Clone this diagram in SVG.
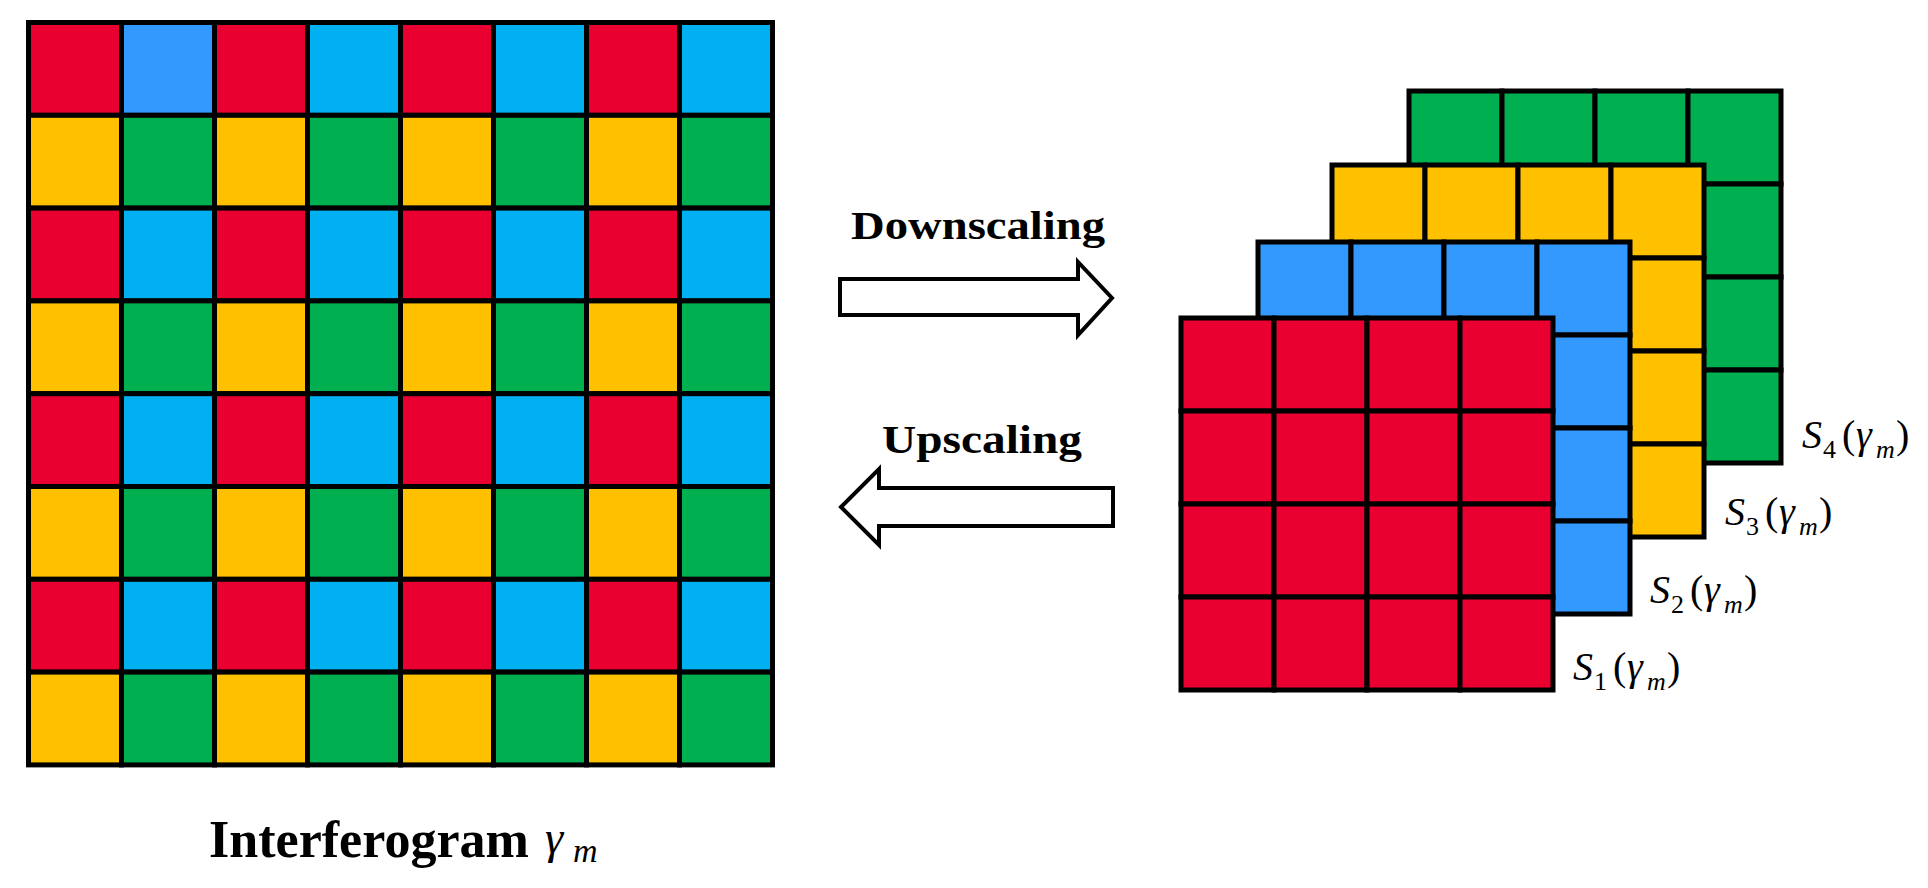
<svg xmlns="http://www.w3.org/2000/svg" width="1928" height="888" viewBox="0 0 1928 888">
<style>
.c{stroke:#000;stroke-width:5;stroke-linejoin:miter}
.r{fill:#E90030}.b{fill:#3399FF}.k{fill:#00B0F0}.y{fill:#FFC000}.g{fill:#00B050}
.arrow{fill:#fff;stroke:#000;stroke-width:4;stroke-linejoin:miter}
.lbl{font-family:"Liberation Serif",serif;font-weight:bold;fill:#000}
.math{font-family:"Liberation Serif",serif;fill:#000}
.it{font-style:italic}
</style>
<defs>
<g id="row4r"><rect class="c r" x="0" y="0" width="93" height="93"/><rect class="c r" x="93" y="0" width="93" height="93"/><rect class="c r" x="186" y="0" width="93" height="93"/><rect class="c r" x="279" y="0" width="93" height="93"/></g>
<g id="row4b"><rect class="c b" x="0" y="0" width="93" height="93"/><rect class="c b" x="93" y="0" width="93" height="93"/><rect class="c b" x="186" y="0" width="93" height="93"/><rect class="c b" x="279" y="0" width="93" height="93"/></g>
<g id="row4y"><rect class="c y" x="0" y="0" width="93" height="93"/><rect class="c y" x="93" y="0" width="93" height="93"/><rect class="c y" x="186" y="0" width="93" height="93"/><rect class="c y" x="279" y="0" width="93" height="93"/></g>
<g id="row4g"><rect class="c g" x="0" y="0" width="93" height="93"/><rect class="c g" x="93" y="0" width="93" height="93"/><rect class="c g" x="186" y="0" width="93" height="93"/><rect class="c g" x="279" y="0" width="93" height="93"/></g>
<g id="rowRC"><rect class="c r" x="0" y="0" width="93" height="92.8"/><rect class="c k" x="93" y="0" width="93" height="92.8"/><rect class="c r" x="186" y="0" width="93" height="92.8"/><rect class="c k" x="279" y="0" width="93" height="92.8"/><rect class="c r" x="372" y="0" width="93" height="92.8"/><rect class="c k" x="465" y="0" width="93" height="92.8"/><rect class="c r" x="558" y="0" width="93" height="92.8"/><rect class="c k" x="651" y="0" width="93" height="92.8"/></g>
<g id="rowYG"><rect class="c y" x="0" y="0" width="93" height="92.8"/><rect class="c g" x="93" y="0" width="93" height="92.8"/><rect class="c y" x="186" y="0" width="93" height="92.8"/><rect class="c g" x="279" y="0" width="93" height="92.8"/><rect class="c y" x="372" y="0" width="93" height="92.8"/><rect class="c g" x="465" y="0" width="93" height="92.8"/><rect class="c y" x="558" y="0" width="93" height="92.8"/><rect class="c g" x="651" y="0" width="93" height="92.8"/></g>
</defs>

<g id="interferogram">
<g transform="translate(28.5,22.5)">
<use href="#rowRC" y="0"/>
<rect class="c b" x="93" y="0" width="93" height="92.8"/>
<use href="#rowYG" y="92.8"/>
<use href="#rowRC" y="185.6"/>
<use href="#rowYG" y="278.4"/>
<use href="#rowRC" y="371.2"/>
<use href="#rowYG" y="464"/>
<use href="#rowRC" y="556.8"/>
<use href="#rowYG" y="649.6"/>
</g>
<text class="lbl" x="209" y="857" font-size="52" textLength="320" lengthAdjust="spacingAndGlyphs">Interferogram</text>
<text class="math it" x="545" y="853" font-size="46">γ</text>
<text class="math it" x="573" y="862" font-size="34">m</text>
</g>

<g id="s4">
<g transform="translate(1409,91)"><use href="#row4g" y="0"/><use href="#row4g" y="93"/><use href="#row4g" y="186"/><use href="#row4g" y="279"/></g>
<text class="math"><tspan class="it" x="1802" y="448" font-size="40">S</tspan><tspan x="1823" y="458" font-size="26">4</tspan><tspan x="1842" y="448" font-size="40">(</tspan><tspan class="it" x="1856" y="448" font-size="40">γ</tspan><tspan class="it" x="1876" y="458" font-size="26">m</tspan><tspan x="1896" y="448" font-size="40">)</tspan></text>
</g>

<g id="s3">
<g transform="translate(1332,165)"><use href="#row4y" y="0"/><use href="#row4y" y="93"/><use href="#row4y" y="186"/><use href="#row4y" y="279"/></g>
<text class="math"><tspan class="it" x="1725" y="525" font-size="40">S</tspan><tspan x="1746" y="535" font-size="26">3</tspan><tspan x="1765" y="525" font-size="40">(</tspan><tspan class="it" x="1779" y="525" font-size="40">γ</tspan><tspan class="it" x="1799" y="535" font-size="26">m</tspan><tspan x="1819" y="525" font-size="40">)</tspan></text>
</g>

<g id="s2">
<g transform="translate(1258,242)"><use href="#row4b" y="0"/><use href="#row4b" y="93"/><use href="#row4b" y="186"/><use href="#row4b" y="279"/></g>
<text class="math"><tspan class="it" x="1650" y="603" font-size="40">S</tspan><tspan x="1671" y="613" font-size="26">2</tspan><tspan x="1690" y="603" font-size="40">(</tspan><tspan class="it" x="1704" y="603" font-size="40">γ</tspan><tspan class="it" x="1724" y="613" font-size="26">m</tspan><tspan x="1744" y="603" font-size="40">)</tspan></text>
</g>

<g id="s1">
<g transform="translate(1181,318)"><use href="#row4r" y="0"/><use href="#row4r" y="93"/><use href="#row4r" y="186"/><use href="#row4r" y="279"/></g>
<text class="math"><tspan class="it" x="1573" y="680" font-size="40">S</tspan><tspan x="1594" y="690" font-size="26">1</tspan><tspan x="1613" y="680" font-size="40">(</tspan><tspan class="it" x="1627" y="680" font-size="40">γ</tspan><tspan class="it" x="1647" y="690" font-size="26">m</tspan><tspan x="1667" y="680" font-size="40">)</tspan></text>
</g>

<g id="connectors">
<g id="downscaling">
<path class="arrow" d="M840,279 L1078,279 L1078,262 L1112,298 L1078,335 L1078,315 L840,315 Z"/>
<text class="lbl" x="851" y="239" font-size="39" textLength="254" lengthAdjust="spacingAndGlyphs">Downscaling</text>
</g>
<g id="upscaling">
<path class="arrow" d="M1113,488 L879,488 L879,469 L841,507 L879,545 L879,526 L1113,526 Z"/>
<text class="lbl" x="882" y="453" font-size="39" textLength="200" lengthAdjust="spacingAndGlyphs">Upscaling</text>
</g>
</g>
</svg>
